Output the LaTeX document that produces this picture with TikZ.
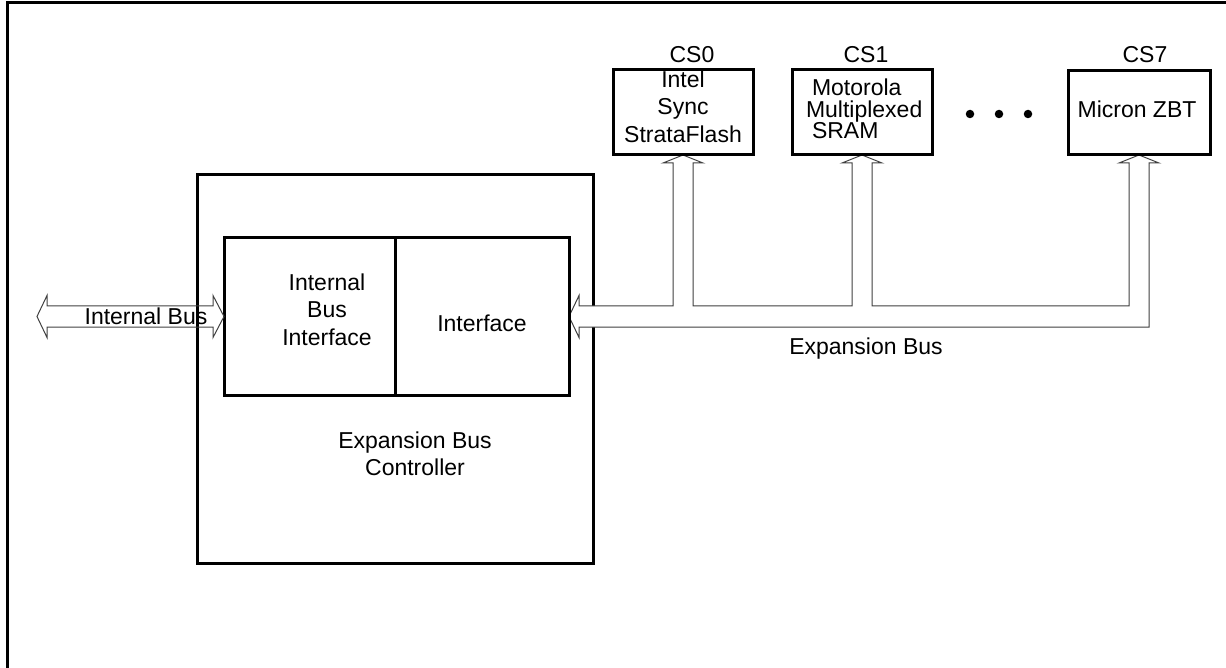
\documentclass[tikz,border=0pt]{standalone}
\usepackage{fontspec}
\setmainfont{Liberation Sans}
\usetikzlibrary{calc}
\pgfdeclarelayer{bg}
\pgfdeclarelayer{mid}
\pgfsetlayers{bg,mid,main}
\begin{document}
\begin{tikzpicture}[x=1pt,y=-1pt,
  box/.style={draw=black, line width=3pt, inner sep=0pt, outer sep=0pt, anchor=north west},
  bus/.style={draw=black!75, line width=1pt, line join=miter},
  txt/.style={inner sep=0pt, outer sep=0pt, font=\fontsize{23}{27.5}\selectfont},
  dotnode/.style={circle, fill=black, inner sep=0pt, minimum size=8.5pt}
]
\useasboundingbox (0,0) rectangle (1226,668);
% page frame
\draw[line width=3pt] (7,668) -- (7,3) -- (1226,3);

% controller box (bottom layer)
\begin{pgfonlayer}{bg}
\node[box, minimum width=396pt, minimum height=388pt] (ebc) at (197,175) {};
\end{pgfonlayer}

% inner boxes
\node[box, minimum width=171pt, minimum height=157pt] (ibi) at (224,238) {};
\node[box, minimum width=174pt, minimum height=157pt] (ifc) at (395,238) {};

% device boxes
\node[box, minimum width=140pt, minimum height=85pt] (cs0) at (613,70) {};
\node[box, minimum width=140pt, minimum height=85pt] (cs1) at (792,70) {};
\node[box, minimum width=142pt, minimum height=84pt] (cs7) at (1068,71) {};

% internal bus double arrow
\coordinate (ibL) at (37,316.5);
\draw[bus] (ibL) -- ++(10,-21) -- ++(0,10.5) -- ($(ibi.west)+(-11,-10.5)$) -- ++(0,-10.5)
  -- (ibi.west) -- ++(-11,21) -- ++(0,-10.5) -- ($(ibL)+(10,10.5)$) -- ++(0,10.5) -- cycle;

% expansion bus
\coordinate (busT) at (0,306);
\coordinate (busB) at (0,327);
\begin{pgfonlayer}{mid}
\draw[bus, fill=white] (ifc.east) -- ++(10,-21) -- ++(0,10.5)
  -- ($(cs0.south|-busT)+(-10,0)$) -- ($(cs0.south)+(-10,8)$) -- ++(-10,0) -- (cs0.south)
  -- ++(20,8) -- ++(-10,0) -- ($(cs0.south|-busT)+(10,0)$)
  -- ($(cs1.south|-busT)+(-10,0)$) -- ($(cs1.south)+(-10,8)$) -- ++(-10,0) -- (cs1.south)
  -- ++(20,8) -- ++(-10,0) -- ($(cs1.south|-busT)+(10,0)$)
  -- ($(cs7.south|-busT)+(-10,0)$) -- ($(cs7.south)+(-10,8)$) -- ++(-10,0) -- (cs7.south)
  -- ++(20,8) -- ++(-10,0) -- ($(cs7.south|-busB)+(10,0)$)
  -- ($(ifc.east|-busB)+(10,0)$) -- ++(0,10.5) -- cycle;
\end{pgfonlayer}

% texts
\node[txt, anchor=base] (iblab) at (146,324) {Internal Bus};
\node[txt, anchor=north, align=center] (ibitxt) at (327,273.5) {Internal\\Bus\\Interface};
\node[txt, anchor=base] (ifctxt) at (482,331) {Interface};
\node[txt, anchor=north, align=center] (ebctxt) at (415,431.5) {Expansion Bus\\Controller};
\node[txt, anchor=base] (eblab) at (866,354) {Expansion Bus};

\node[txt, anchor=base] (cs0lab) at (692,63) {CS0};
\node[txt, anchor=base] (cs1lab) at (866,63) {CS1};
\node[txt, anchor=base] (cs7lab) at (1145,63) {CS7};

\node[txt, anchor=north, align=center] (cs0txt) at (683,70.5) {Intel\\Sync\\StrataFlash};
\node[txt, anchor=north west, align=left] (cs1txt) at (806,79) {\hspace*{6pt}Motorola\\[-6pt]Multiplexed\\[-6pt]\hspace*{6pt}SRAM};
\node[txt, anchor=base] (cs7txt) at (1137,118) {Micron ZBT};

% ellipsis dots
\node[dotnode] (d1) at (970,114) {};
\node[dotnode] (d2) at (999,114) {};
\node[dotnode] (d3) at (1028,114) {};
\end{tikzpicture}
\end{document}
